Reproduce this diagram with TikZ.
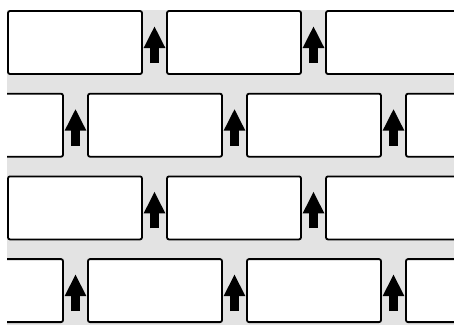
\documentclass[tikz,border=0pt]{standalone}
\usetikzlibrary{arrows.meta}

\begin{document}
\begin{tikzpicture}[x=1pt,y=-1pt,line width=1.8pt,
  brick/.style={draw,fill=white,rounded corners=2pt},
  uparrow/.style={line width=9pt,-{Triangle[width=20pt,length=22pt]}}]
  \useasboundingbox (0,0) rectangle (454,325);
  \clip (7,10) rectangle (454,325);
  \fill[gray!22] (7,10) rectangle (454,325);
  % rows of bricks, every second row shifted
  \foreach \r/\s in {0/8,1/-71,2/8,3/-71} {
    \pgfmathsetmacro{\t}{11+82.7*\r}
    \foreach \k in {0,...,3}
      \draw[brick] (\s+159*\k,\t) rectangle ++(134,63);
    \foreach \k in {0,...,2}
      \draw[uparrow] (\s+146.5+159*\k,\t+52) -- ++(0,-37);
  }
\end{tikzpicture}
\end{document}
